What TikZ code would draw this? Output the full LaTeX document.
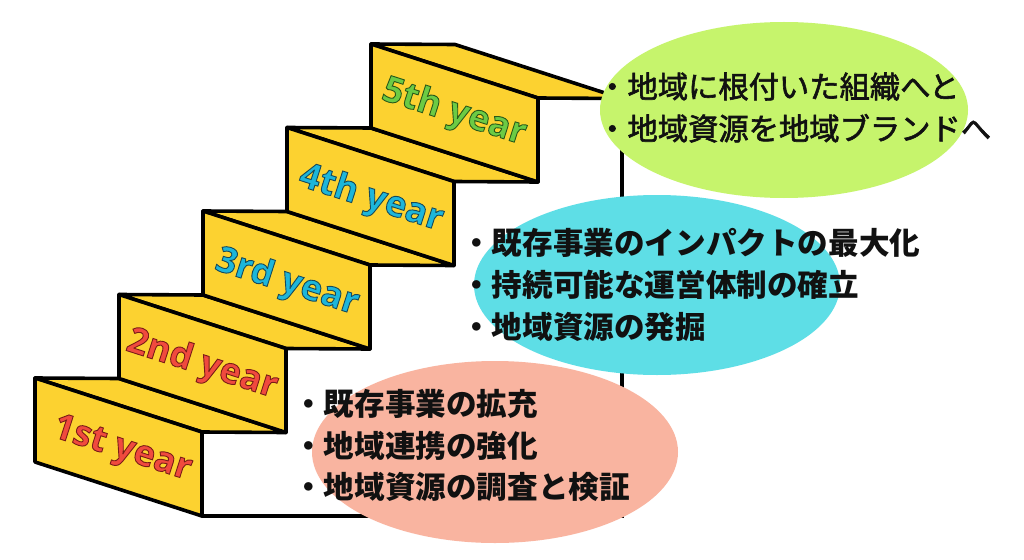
\documentclass[tikz,border=0pt]{standalone}
\usepackage{fontspec}
\usetikzlibrary{shapes.geometric}
\newfontfamily\cjkfont{Noto Sans CJK JP}
\newfontfamily\labfont{Open Sans}
\newcommand\outlinedtext[3]{\special{pdf:literal direct 2 Tr #2 w #1 RG}#3\special{pdf:literal direct 0 Tr}}
\definecolor{stepyellow}{HTML}{FCD230}
\definecolor{limeell}{HTML}{C6F46C}
\definecolor{cyanell}{HTML}{5EDEE6}
\definecolor{salmonell}{HTML}{F9B4A0}
\definecolor{labred}{HTML}{F04A3E}
\definecolor{labcyan}{HTML}{1DB6DA}
\definecolor{labgreen}{HTML}{6CCB44}
\definecolor{inkblack}{HTML}{111111}
\begin{document}
\begin{tikzpicture}[x=1pt,y=-1pt,
  stepface/.style={fill=stepyellow,draw=black,line width=3.6pt,line join=round},
  outline/.style={draw=black,line width=3.6pt,line cap=round},
  yearlabel/.style={rotate=-17.8,font=\labfont\bfseries\fontsize{36}{36}\selectfont,inner sep=0pt},
  bubble/.style={ellipse,draw=none,inner sep=0pt},
  itemlight/.style={anchor=base west,inner sep=0pt,text=inkblack,font=\cjkfont\fontsize{30.3}{36}\selectfont},
  itembold/.style={anchor=base west,inner sep=0pt,text=inkblack,font=\cjkfont\bfseries\fontsize{30.6}{36}\selectfont}
]
\useasboundingbox (0,0) rectangle (1024,559);
\fill[white] (0,0) rectangle (1024,559);
% outer outline
\coordinate (bl) at (202,516);
\coordinate (br) at (622,516);
\coordinate (tr) at (622,98.5);
\draw[outline] (bl) -- (br) -- (tr);
% steps
\foreach \i in {0,...,4}{
  \pgfmathsetmacro{\L}{35+84*\i}
  \pgfmathsetmacro{\T}{378-83.5*\i}
  \filldraw[stepface] (\L,\T) -- (\L+84,\T+0.5) -- (\L+251,\T+54.5) -- (\L+167,\T+54) -- cycle;
  \filldraw[stepface] (\L,\T) -- (\L+167,\T+54) -- (\L+167,\T+138) -- (\L,\T+84) -- cycle;
}
% labels
\node[yearlabel,text=labred] (y1) at (122,450) {\outlinedtext{0.48 0.11 0.09}{0.9}{1st year}};
\node[yearlabel,text=labred] (y2) at (202,365) {\outlinedtext{0.48 0.11 0.09}{0.9}{2nd year}};
\node[yearlabel,text=labcyan] (y3) at (287,283) {\outlinedtext{0.09 0.29 0.35}{0.9}{3rd year}};
\node[yearlabel,text=labcyan] (y4) at (371,199) {\outlinedtext{0.09 0.29 0.35}{0.9}{4th year}};
\node[yearlabel,text=labgreen] (y5) at (454,113) {\outlinedtext{0.16 0.35 0.10}{0.9}{5th year}};
% bubbles
\node[bubble,fill=limeell,minimum width=368pt,minimum height=176pt] (g) at (784,110) {};
\node[bubble,fill=cyanell,minimum width=366pt,minimum height=180pt] (c) at (657,285) {};
\node[bubble,fill=salmonell,minimum width=366pt,minimum height=182pt] (s) at (495,452) {};
% texts
\node[itemlight] (g1) at (597,98) {\outlinedtext{0.07 0.07 0.07}{0.6}{・地域に根付いた組織へと}};
\node[itemlight] (g2) at (597,140) {\outlinedtext{0.07 0.07 0.07}{0.6}{・地域資源を地域ブランドへ}};
\node[itembold] (c1) at (461,254) {・既存事業のインパクトの最大化};
\node[itembold] (c2) at (461,296) {・持続可能な運営体制の確立};
\node[itembold] (c3) at (461,338) {・地域資源の発掘};
\node[itembold] (s1) at (293,415) {・既存事業の拡充};
\node[itembold] (s2) at (293,457) {・地域連携の強化};
\node[itembold] (s3) at (293,498) {・地域資源の調査と検証};
\end{tikzpicture}
\end{document}
